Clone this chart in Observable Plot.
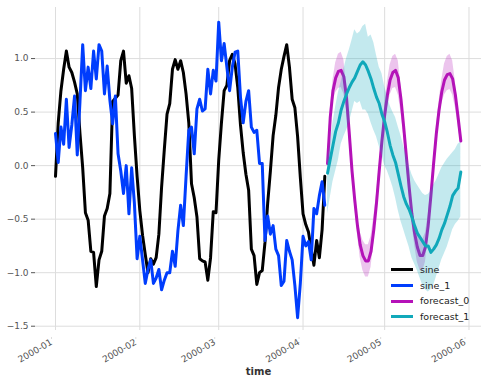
<!DOCTYPE html>
<html><head><meta charset="utf-8">
<script src="https://cdn.jsdelivr.net/npm/d3@7"></script>
<script src="https://cdn.jsdelivr.net/npm/@observablehq/plot@0.6"></script>
<style>
body{margin:0;background:#fff;font-family:"DejaVu Sans",sans-serif;}
#wrap{position:relative;width:487px;height:386px;}
#legend{position:absolute;left:391px;top:262px;font-size:9.5px;color:#222;line-height:15.7px;}
#legend div{display:flex;align-items:center;height:15.7px;}
#legend span.sw{display:inline-block;width:22px;height:3px;margin-right:7px;}
</style></head><body><div id="wrap"></div>
<script>
// ---- data ----
const startDate = "2000-01-01";
const forecastStart = "2000-04-10";
const seriesNames = ["sine", "sine_1", "forecast_0", "forecast_1"];
const seriesColors = ["#000000", "#003DFD", "#b512b8", "#11a9ba"];
const xTickLabels = ["2000-01", "2000-02", "2000-03", "2000-04", "2000-05", "2000-06"];
const yTicks = [-1.5, -1.0, -0.5, 0.0, 0.5, 1.0];

const sine = [-0.10, 0.40, 0.70, 0.90, 1.07, 0.92, 0.87, 0.78, 0.67, 0.30,
  -0.02, -0.44, -0.51, -0.80, -0.81, -1.13, -0.88, -0.80, -0.47, -0.40,
  -0.26, 0.60, 0.63, 0.66, 0.98, 1.07, 0.77, 0.84, 0.72, 0.28,
  -0.10, -0.42, -0.65, -0.83, -1.00, -0.87, -0.92, -0.86, -0.64, -0.20,
  0.15, 0.48, 0.58, 0.90, 0.99, 0.90, 0.98, 0.87, 0.67, 0.40,
  -0.17, -0.30, -0.48, -0.87, -0.89, -0.90, -1.07, -0.86, -0.43, -0.44,
  0.05, 0.40, 0.70, 0.75, 0.98, 1.04, 0.95, 0.73, 0.38, 0.12,
  -0.08, -0.23, -0.78, -0.84, -1.11, -1.00, -0.98, -0.72, -0.35, -0.05,
  0.28, 0.47, 0.73, 0.90, 1.02, 1.13, 0.92, 0.62, 0.54, 0.27,
  -0.11, -0.45, -0.55, -0.62, -0.78, -0.93, -0.70, -0.86, -0.60, -0.10];

const sine_1 = [0.30, 0.03, 0.36, 0.20, 0.62, 0.17, 0.38, 0.65, 0.10, 0.60,
  1.13, 0.70, 0.92, 0.72, 1.07, 0.81, 1.13, 1.07, 0.67, 0.93,
  0.61, 0.39, 0.65, 0.11, -0.05, -0.26, 0.00, -0.45, -0.02, -0.35,
  -0.87, -0.66, -0.88, -1.10, -0.97, -0.88, -1.10, -1.05, -0.97, -1.16,
  -1.07, -1.00, -1.00, -0.80, -0.94, -0.61, -0.37, -0.56, -0.10, 0.33,
  0.36, 0.11, 0.53, 0.62, 0.51, 0.53, 0.90, 0.67, 0.89, 0.79,
  1.34, 0.98, 1.14, 0.92, 0.70, 0.92, 1.06, 1.07, 0.64, 0.40,
  0.60, 0.70, 0.36, 0.31, 0.33, 0.02, 0.02, -0.70, -0.47, -0.64,
  -0.56, -0.78, -0.84, -1.12, -1.08, -0.70, -0.80, -0.88, -1.12, -1.42,
  -1.10, -0.66, -0.75, -0.71, -0.88, -0.40, -0.45, -0.28, -0.15, -0.37];

const forecast_0 = [0.02, 0.45, 0.70, 0.82, 0.88, 0.89, 0.83, 0.63, 0.30, -0.05,
  -0.32, -0.56, -0.74, -0.84, -0.89, -0.89, -0.80, -0.60, -0.35, -0.05,
  0.23, 0.47, 0.66, 0.80, 0.87, 0.89, 0.82, 0.62, 0.36, 0.08,
  -0.20, -0.45, -0.63, -0.76, -0.84, -0.84, -0.76, -0.56, -0.28, 0.02,
  0.30, 0.52, 0.69, 0.80, 0.85, 0.86, 0.81, 0.66, 0.45, 0.23];
const forecast_0_low = [-0.02, 0.38, 0.60, 0.68, 0.72, 0.73, 0.67, 0.52, 0.22, -0.10,
  -0.38, -0.64, -0.86, -0.98, -1.04, -1.04, -0.95, -0.72, -0.43, -0.10,
  0.17, 0.38, 0.54, 0.66, 0.72, 0.73, 0.66, 0.50, 0.28, 0.02,
  -0.26, -0.53, -0.74, -0.90, -0.98, -0.99, -0.90, -0.66, -0.35, -0.03,
  0.24, 0.43, 0.58, 0.66, 0.70, 0.71, 0.66, 0.54, 0.38, 0.19];
const forecast_0_high = [0.05, 0.52, 0.80, 0.96, 1.04, 1.06, 0.99, 0.74, 0.38, 0.00,
  -0.27, -0.48, -0.62, -0.70, -0.74, -0.74, -0.66, -0.48, -0.27, 0.00,
  0.28, 0.55, 0.78, 0.94, 1.02, 1.04, 0.98, 0.74, 0.44, 0.13,
  -0.15, -0.37, -0.52, -0.63, -0.69, -0.69, -0.63, -0.46, -0.22, 0.06,
  0.36, 0.60, 0.80, 0.95, 1.02, 1.04, 0.98, 0.78, 0.52, 0.27];

const forecast_1 = [-0.07, 0.06, 0.19, 0.32, 0.40, 0.52, 0.60, 0.67, 0.73, 0.78,
  0.82, 0.88, 0.94, 0.97, 0.94, 0.88, 0.81, 0.72, 0.64, 0.58,
  0.48, 0.41, 0.31, 0.19, 0.10, 0.03, -0.08, -0.19, -0.29, -0.36,
  -0.41, -0.48, -0.56, -0.63, -0.67, -0.71, -0.75, -0.75, -0.81, -0.78,
  -0.74, -0.68, -0.60, -0.54, -0.46, -0.38, -0.28, -0.24, -0.21, -0.06];
const forecast_1_low = [-0.45, -0.30, -0.15, -0.05, 0.05, 0.20, 0.27, 0.33, 0.40, 0.50,
  0.60, 0.58, 0.60, 0.52, 0.52, 0.48, 0.40, 0.33, 0.27, 0.18,
  0.10, 0.00, -0.05, -0.12, -0.20, -0.30, -0.42, -0.52, -0.60, -0.68,
  -0.76, -0.86, -0.92, -0.98, -1.05, -1.12, -1.16, -1.18, -1.16, -1.12,
  -1.04, -0.96, -0.88, -0.82, -0.76, -0.68, -0.60, -0.55, -0.52, -0.48];
const forecast_1_high = [0.05, 0.20, 0.40, 0.55, 0.68, 0.78, 0.90, 1.00, 1.08, 1.17,
  1.27, 1.23, 1.25, 1.30, 1.32, 1.20, 1.22, 1.15, 1.03, 0.92,
  0.86, 0.74, 0.65, 0.56, 0.50, 0.45, 0.36, 0.28, 0.18, 0.10,
  0.00, -0.08, -0.14, -0.18, -0.22, -0.26, -0.28, -0.27, -0.24, -0.18,
  -0.14, -0.08, -0.02, 0.02, 0.06, 0.09, 0.12, 0.15, 0.20, 0.22];

// ---- tables ----
const dayAt = (s, i) => d3.utcDay.offset(new Date(s), i);
const hist = sine.map((v, i) => ({date: dayAt(startDate, i), sine: v, sine_1: sine_1[i]}));
const fc = forecast_0.map((v, i) => ({date: dayAt(forecastStart, i),
  f0: v, lo0: forecast_0_low[i], hi0: forecast_0_high[i],
  f1: forecast_1[i], lo1: forecast_1_low[i], hi1: forecast_1_high[i]}));
const xTicks = xTickLabels.map(s => new Date(s + "-01"));
const fmtY = d => d3.format(".1f")(d).replace("-", "\u2212");

const lw = 3;
const chart = Plot.plot({
  width: 487, height: 386,
  marginTop: 7, marginBottom: 56, marginLeft: 35, marginRight: 6,
  style: {fontFamily: "DejaVu Sans, sans-serif", fontSize: "9px", color: "#555", background: "#fff", overflow: "visible"},
  x: {type: "utc", domain: [new Date(Date.UTC(1999, 11, 24, 15, 36)), new Date(Date.UTC(2000, 5, 5, 14, 24))]},
  y: {domain: [-1.54, 1.477]},
  marks: [
    Plot.gridY(yTicks, {stroke: "#dddddd", strokeOpacity: 1, strokeWidth: 1}),
    Plot.gridX(xTicks, {stroke: "#dddddd", strokeOpacity: 1, strokeWidth: 1}),
    Plot.axisY(yTicks, {tickSize: 4, tickPadding: 3, tickFormat: fmtY, label: null, stroke: "#555"}),
    Plot.axisX(xTicks, {tickSize: 2, tickPadding: 2, tickRotate: -30, tickFormat: d3.utcFormat("%Y-%m"), label: null, stroke: "#dddddd", dx: -4, dy: 7}),
    Plot.text(["time"], {frameAnchor: "bottom", dy: 44, fontWeight: "bold", fontSize: 10, fill: "#333"}),
    Plot.lineY(hist, {x: "date", y: "sine", stroke: seriesColors[0], strokeWidth: lw}),
    Plot.lineY(hist, {x: "date", y: "sine_1", stroke: seriesColors[1], strokeWidth: lw}),
    Plot.lineY(fc, {x: "date", y: "f0", stroke: seriesColors[2], strokeWidth: lw}),
    Plot.areaY(fc, {x: "date", y1: "lo0", y2: "hi0", fill: seriesColors[2], fillOpacity: 0.25}),
    Plot.lineY(fc, {x: "date", y: "f1", stroke: seriesColors[3], strokeWidth: lw}),
    Plot.areaY(fc, {x: "date", y1: "lo1", y2: "hi1", fill: seriesColors[3], fillOpacity: 0.25})
  ]
});
const wrap = document.getElementById("wrap");
wrap.appendChild(chart);
const leg = document.createElement("div");
leg.id = "legend";
seriesNames.forEach((n, i) => {
  const row = document.createElement("div");
  const sw = document.createElement("span");
  sw.className = "sw"; sw.style.background = seriesColors[i];
  row.appendChild(sw);
  row.appendChild(document.createTextNode(n));
  leg.appendChild(row);
});
wrap.appendChild(leg);
</script></body></html>
